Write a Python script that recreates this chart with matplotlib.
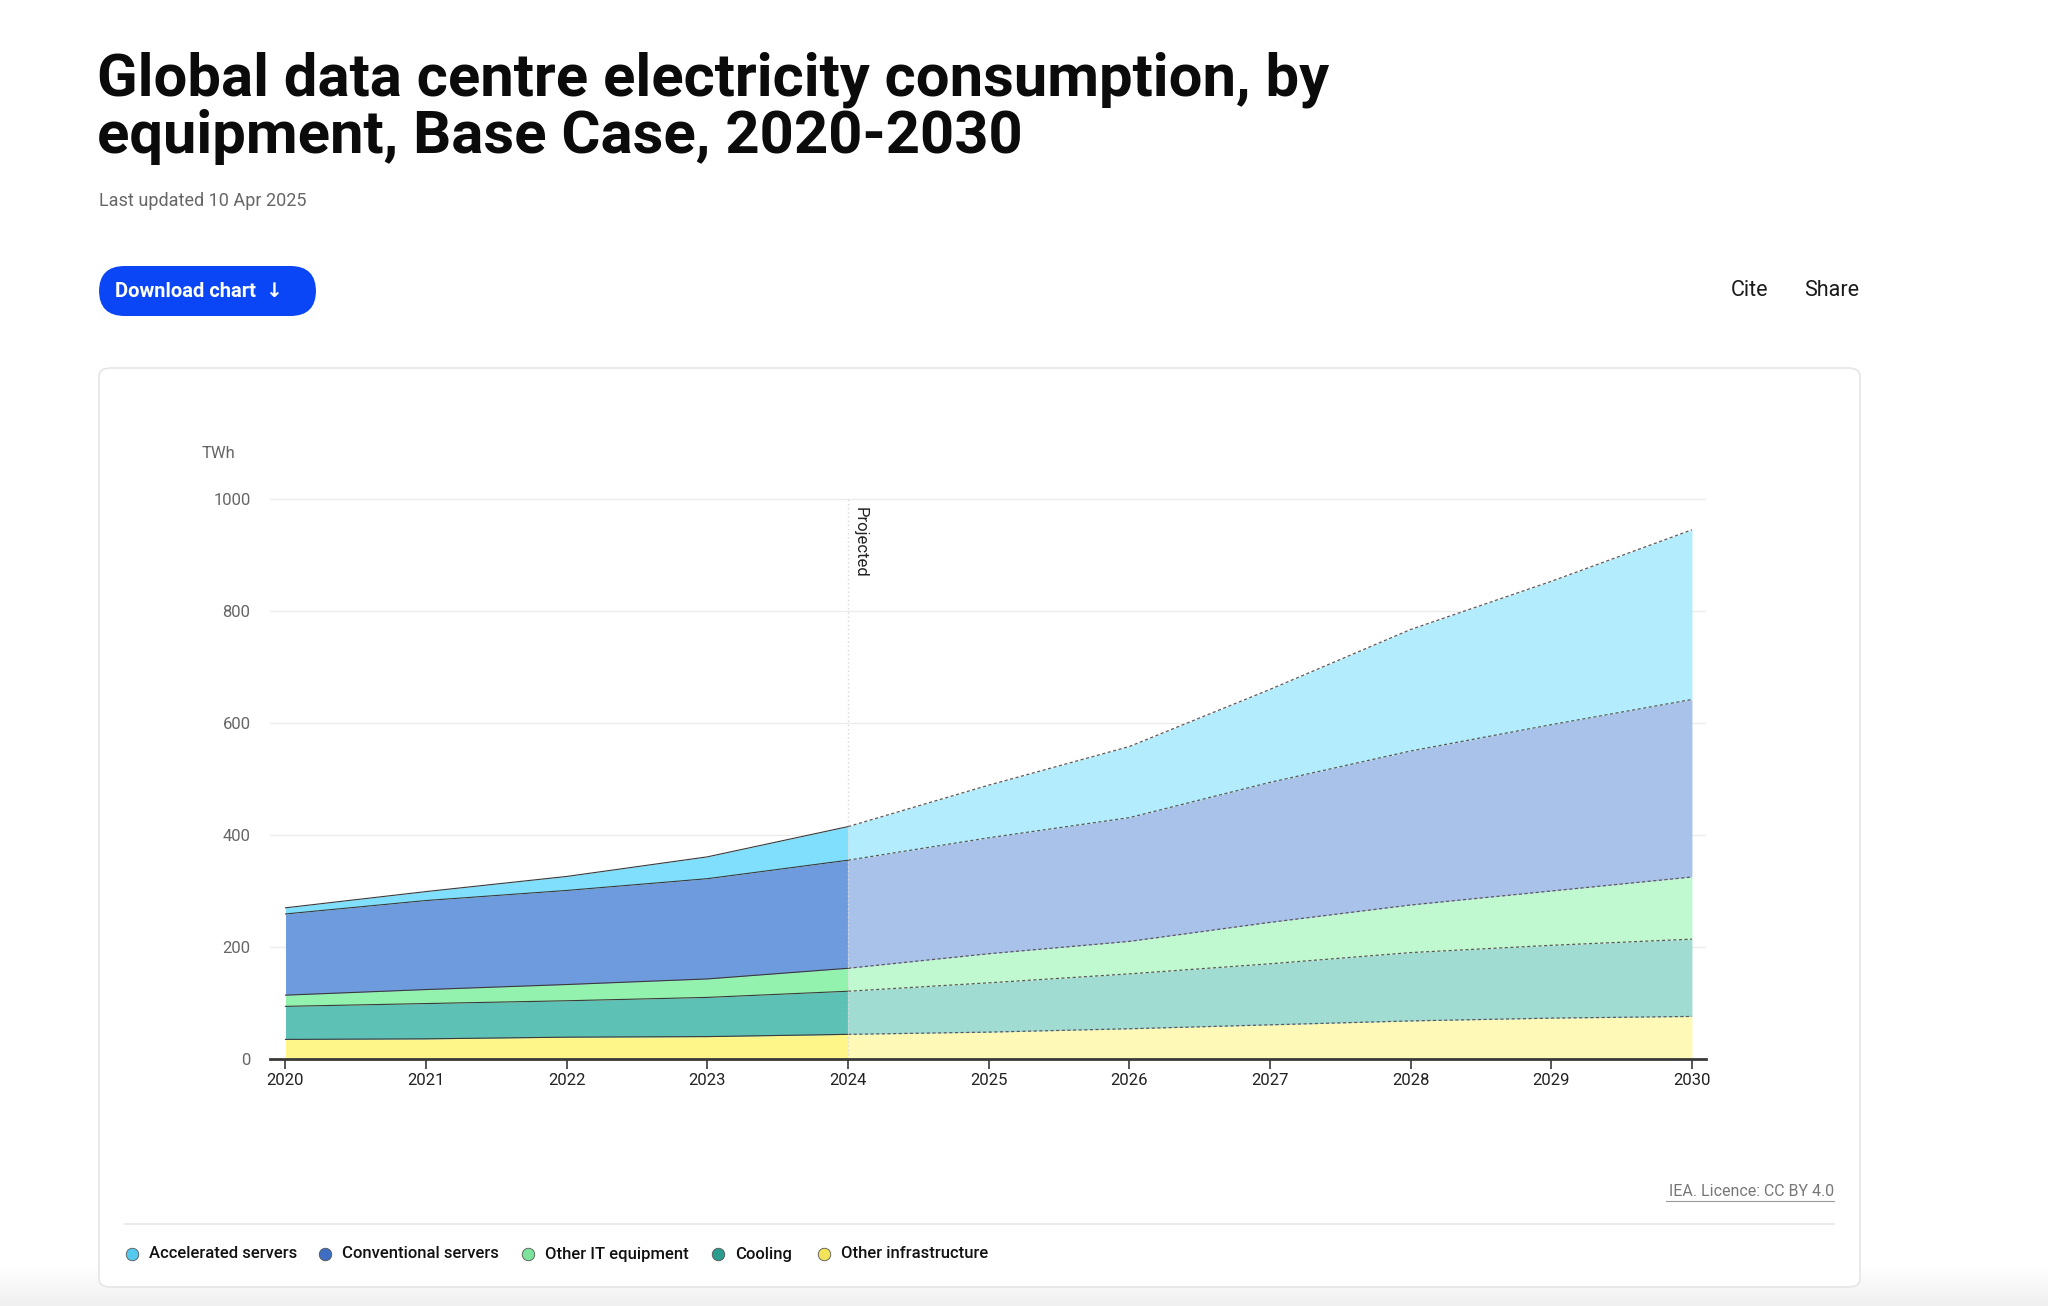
import matplotlib
matplotlib.use('Agg')
import matplotlib.pyplot as plt
from matplotlib.patches import FancyBboxPatch, Rectangle
import numpy as np

plt.rcParams['font.family'] = ['Roboto', 'DejaVu Sans']

# data (TWh)
years = [2020, 2021, 2022, 2023, 2024, 2025, 2026, 2027, 2028, 2029, 2030]
other_infra = [35, 36, 39, 40, 44, 48, 54, 61, 68, 73, 76]
cooling = [59, 63, 65, 70, 77, 88, 98, 109, 122, 130, 138]
other_it = [20, 25, 29, 33, 41, 52, 58, 74, 85, 97, 111]
conventional = [145, 159, 168, 179, 193, 207, 221, 250, 275, 297, 317]
accelerated = [11, 16, 25, 39, 60, 94, 127, 166, 217, 256, 303]

series_names = ['Other infrastructure', 'Cooling', 'Other IT equipment',
                'Conventional servers', 'Accelerated servers']
series_values = [other_infra, cooling, other_it, conventional, accelerated]
hist_colors = ['#FFF68A', '#5EC1B6', '#93F3AE', '#6E9BDD', '#80DFFD']
proj_colors = ['#FFF9B8', '#A1DCD3', '#C0F8CF', '#A8C2EA', '#B3ECFC']
legend_colors = ['#F3E35A', '#2A9D8F', '#7DE39A', '#3F6FC4', '#55C8EE']
projected_from = 2024

W, H = 2048, 1306
fig = plt.figure(figsize=(W / 100, H / 100), dpi=100)


def fx(px):
    return px / W


def fy(py):
    return 1 - py / H


# bottom gray fade
for i in range(40):
    g = 1 - 0.06 * (i / 39)
    fig.patches.append(Rectangle((0, fy(1267 + i)), 1, 1 / H * 1.2,
                                 transform=fig.transFigure, color=(g, g, g),
                                 zorder=0))

# card
card = FancyBboxPatch((fx(99), fy(1287)), fx(1860) - fx(99), fy(368) - fy(1287),
                      boxstyle='round,pad=0,rounding_size=0.006',
                      transform=fig.transFigure, facecolor='white',
                      edgecolor='#e6e6e6', lw=1.2, zorder=1)
fig.patches.append(card)

# header texts
fig.text(fx(97), fy(51), 'Global data centre electricity consumption, by\nequipment, Base Case, 2020-2030',
         fontsize=43, fontweight='bold', va='top', ha='left', color='#0b0b0b',
         linespacing=1.03)
fig.text(fx(99), fy(201), 'Last updated 10 Apr 2025', fontsize=13, color='#666666',
         va='center', ha='left')

btn = FancyBboxPatch((fx(99), fy(316)), fx(316) - fx(99), fy(266) - fy(316),
                     boxstyle='round,pad=0,rounding_size=0.0125',
                     transform=fig.transFigure, facecolor='#0A46F5',
                     edgecolor='none', mutation_aspect=W / H, zorder=2)
fig.patches.append(btn)
fig.text(fx(115), fy(291), 'Download chart  \u2193', fontsize=14.5, fontweight='bold',
         color='white', va='center', ha='left', zorder=3)
fig.text(fx(1750), fy(290), 'Cite', fontsize=15.5, color='#1a1a1a', va='center', ha='center')
fig.text(fx(1832), fy(290), 'Share', fontsize=15.5, color='#1a1a1a', va='center', ha='center')

# chart axes
ymax = 1050
ax_bottom = 1059
ax_top = ax_bottom - ymax * 0.56
ax = fig.add_axes([fx(270), fy(ax_bottom), fx(1706) - fx(270), fy(ax_top) - fy(ax_bottom)],
                  zorder=3)
ax.set_facecolor('none')
ax.set_xlim(2019.89, 2030.1)
ax.set_ylim(0, ymax)

x = np.array(years)
hist = x <= projected_from
proj = x >= projected_from
base = np.zeros(len(years))
for name, vals, hc, pc in zip(series_names, series_values, hist_colors, proj_colors):
    top = base + np.array(vals)
    ax.fill_between(x[hist], base[hist], top[hist], color=hc, lw=0, zorder=2)
    ax.fill_between(x[proj], base[proj], top[proj], color=pc, lw=0, zorder=2)
    ax.plot(x[hist], top[hist], color='#3a3a3a', lw=0.8, zorder=3)
    ax.plot(x[proj], top[proj], color='#5a5a5a', lw=0.9, dashes=(2.5, 2), zorder=3)
    base = top

ax.set_yticks([0, 200, 400, 600, 800, 1000])
ax.set_xticks(years)
ax.set_xticklabels([str(y) for y in years])
ax.grid(axis='y', color='#ececec', lw=1, zorder=0)
ax.set_axisbelow(True)
for s in ['top', 'right', 'left']:
    ax.spines[s].set_visible(False)
ax.spines['bottom'].set_color('#3a3a3a')
ax.spines['bottom'].set_linewidth(2)
ax.spines['bottom'].set_zorder(4)
ax.tick_params(axis='y', length=0, labelsize=12, labelcolor='#666666', pad=14)
ax.tick_params(axis='x', length=7, width=1.2, color='#3a3a3a', labelsize=12,
               labelcolor='#222222', pad=3)

ax.vlines(projected_from, 0, 1000, color='#d8d8d8', lw=1, linestyles=(0, (1, 2)), zorder=4)
ax.text(projected_from + 0.03, 985, 'Projected', rotation=-90, fontsize=12,
        color='#222222', ha='left', va='top', zorder=5)

fig.text(fx(202), fy(453), 'TWh', fontsize=12, color='#666666', va='center', ha='left')

# footer
fig.text(fx(1834), fy(1191), 'IEA. Licence: CC BY 4.0', fontsize=11.5, color='#777777',
         ha='right', va='center')
fig.add_artist(plt.Line2D([fx(1666), fx(1834)], [fy(1201), fy(1201)], color='#999999',
                          lw=0.8, transform=fig.transFigure))
fig.add_artist(plt.Line2D([fx(125), fx(1834)], [fy(1224), fy(1224)], color='#ececec',
                          lw=1.5, transform=fig.transFigure))

legend_x = [132, 325, 528, 718, 824]
legend_order = [4, 3, 2, 1, 0]
for lx, idx in zip(legend_x, legend_order):
    fig.add_artist(plt.Line2D([fx(lx)], [fy(1254)], marker='o', markersize=9,
                              markerfacecolor=legend_colors[idx], markeredgecolor='#555555',
                              markeredgewidth=0.6, transform=fig.transFigure))
    fig.text(fx(lx + 17), fy(1254), series_names[idx], fontsize=12, fontweight='medium',
             color='#111111', ha='left', va='center')

fig.savefig('out.png', dpi=100)
